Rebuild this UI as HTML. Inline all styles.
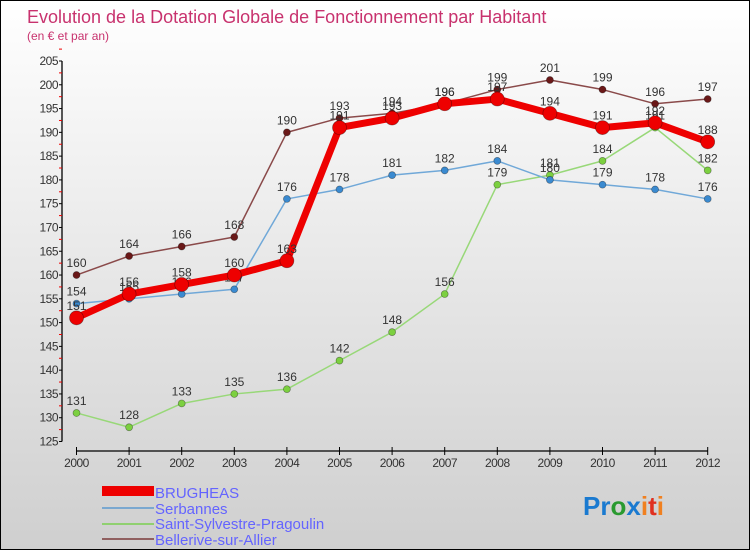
<!DOCTYPE html>
<html><head><meta charset="utf-8"><style>
body{margin:0;width:750px;height:550px;overflow:hidden;font-family:"Liberation Sans",sans-serif}
#c{position:absolute;left:0;top:0;width:748px;height:548px;border:1px solid #000;background:linear-gradient(#ffffff,#cfcfcf)}
</style></head><body>
<div id="c">
<svg id="s" width="748" height="548" xmlns="http://www.w3.org/2000/svg">
<text x="26" y="22" font-size="18" fill="#c8326e">Evolution de la Dotation Globale de Fonctionnement par Habitant</text>
<text x="26" y="39" font-size="12" fill="#c8326e">(en € et par an)</text>
<g id="axes"></g><g id="series"></g>
<g>
<rect x="101" y="485" width="52" height="10" fill="#e00"/>
<text x="154" y="497" font-size="15" fill="#6464ff">BRUGHEAS</text>
<line x1="101" y1="507" x2="153" y2="507" stroke="#7aa8d0" stroke-width="2"/>
<text x="154" y="513" font-size="15" fill="#6464ff">Serbannes</text>
<line x1="101" y1="523" x2="153" y2="523" stroke="#90d070" stroke-width="2"/>
<text x="154" y="528" font-size="15" fill="#6464ff">Saint-Sylvestre-Pragoulin</text>
<line x1="101" y1="538" x2="153" y2="538" stroke="#906060" stroke-width="2"/>
<text x="154" y="544" font-size="15" fill="#6464ff">Bellerive-sur-Allier</text>
</g>
<text x="582" y="514" font-size="26" font-weight="bold"><tspan fill="#1a7ad0">Pr</tspan><tspan fill="#2a9a30">o</tspan><tspan fill="#1a7ad0">x</tspan><tspan fill="#f08020">i</tspan><tspan fill="#e03020">t</tspan><tspan fill="#f08020">i</tspan></text>
</svg></div>
<script>
const years=[2000,2001,2002,2003,2004,2005,2006,2007,2008,2009,2010,2011,2012];
const brugheas=[151,156,158,160,163,191,193,196,197,194,191,192,188];
const serbannes=[154,155,156,157,176,178,181,182,184,180,179,178,176];
const sylvestre=[131,128,133,135,136,142,148,156,179,181,184,191,182];
const bellerive=[160,164,166,168,190,193,194,196,199,201,199,196,197];
const yTicks=[125,130,135,140,145,150,155,160,165,170,175,180,185,190,195,200,205];
const NS="http://www.w3.org/2000/svg";
function X(i){return 75.5+i*52.6;}
function Y(v){return 440.5-(v-125)*380.5/80;}
function mk(t,a,p){const e=document.createElementNS(NS,t);for(const k in a)e.setAttribute(k,a[k]);p.appendChild(e);return e;}
const ax=document.getElementById('axes');
let l=mk('line',{x1:61,y1:Y(125),x2:61,y2:Y(205),stroke:'#000','stroke-width':1.3},ax);


yTicks.forEach(v=>{
 mk('line',{x1:58,y1:Y(v),x2:61,y2:Y(v),stroke:'#000'},ax);
 mk('line',{x1:58,y1:Y(v+2.5),x2:61,y2:Y(v+2.5),stroke:'#e00'},ax);
 const t=mk('text',{x:57,y:Y(v)+4,'font-size':12,fill:'#333','text-anchor':'end','letter-spacing':'-0.5'},ax);t.textContent=v;
 
 
});
l=mk('line',{x1:X(0),y1:450,x2:X(12),y2:450,stroke:'#000','stroke-width':1.3},ax);


years.forEach((y,i)=>{
 mk('line',{x1:X(i),y1:446,x2:X(i),y2:454,stroke:'#000'},ax);
 const t=mk('text',{x:X(i),y:466,'font-size':12,fill:'#333','text-anchor':'middle','letter-spacing':'-0.5'},ax);t.textContent=y;
 
 
});
const sg=document.getElementById('series');
function series(data,name,col,dot,w,r){
 const g=mk('g',{},sg);
 
 
 mk('polyline',{points:data.map((v,i)=>X(i)+','+Y(v)).join(' '),fill:'none',stroke:col,'stroke-width':w,'stroke-linejoin':'round'},g);
 data.forEach((v,i)=>{
  const c=mk('circle',{cx:X(i),cy:Y(v),r:r,fill:dot,stroke:'rgba(0,0,0,0.4)','stroke-width':0.7},g);
  
  
  const t=mk('text',{x:X(i),y:Y(v)-8,'font-size':12,fill:'#333','text-anchor':'middle'},g);t.textContent=v;
  
  
 });
}
series(sylvestre,'saint-sylvestre','#98d878','#7cd040',1.5,3.5);
series(serbannes,'serbannes','#70a8d8','#3a8ad0',1.5,3.5);
series(bellerive,'bellerive','#8a4a4a','#6a1818',1.5,3.5);
series(brugheas,'brugheas','#ee0000','#ee0000',7,7);
</script>
</body></html>
